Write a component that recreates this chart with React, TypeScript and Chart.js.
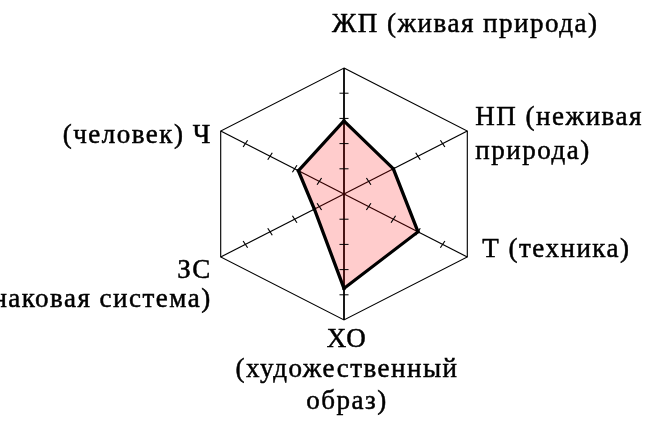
import React, { useEffect, useRef } from "react";
import { Chart, registerables } from "chart.js";

Chart.register(...registerables);

// ---- data ----
const categories = [
  "ЖП (живая природа)",
  "НП (неживая природа)",
  "Т (техника)",
  "ХО (художественный образ)",
  "ЗС (знаковая система)",
  "(человек) Ч",
];
const labelLines = [
  ["ЖП (живая природа)"],
  ["НП (неживая", "природа)"],
  ["Т (техника)"],
  ["ХО", "(художественный", "образ)"],
  ["ЗС", "(знаковая система)"],
  ["(человек) Ч"],
];
const values = [2.9, 2.0, 3.0, 3.75, 1.2, 1.85];
const scaleMin = 0;
const scaleMax = 5;
const stepSize = 1;
const tickMarkValues = [1, 2, 3, 4];

// ---- style ----
const SX = 1.13;
const FONT = '27px "Liberation Serif", "Times New Roman", serif';
const placement = [
  { align: "left", dx: -12, dy: [-36] },
  { align: "left", dx: 8, dy: [-6, 28] },
  { align: "left", dx: 15, dy: [0] },
  { align: "center", dx: 3, dy: [27, 57, 89] },
  { align: "right", dx: -9, dy: [21, 50] },
  { align: "right", dx: -9, dy: [12] },
];

const stretchPlugin = {
  id: "stretchRadar",
  beforeDraw(chart: any) {
    const s = chart.scales.r;
    const ctx = chart.ctx;
    ctx.save();
    ctx.translate(s.xCenter, 0);
    ctx.scale(SX, 1);
    ctx.translate(-s.xCenter, 0);
  },
  afterDatasetsDraw(chart: any) {
    const s = chart.scales.r;
    const ctx = chart.ctx;
    ctx.save();
    ctx.strokeStyle = "#000";
    ctx.lineWidth = 1;
    for (let i = 0; i < categories.length; i++) {
      const a = s.getIndexAngle(i) - Math.PI / 2;
      const px = -Math.sin(a);
      const py = Math.cos(a);
      for (const v of tickMarkValues) {
        const p = s.getPointPosition(i, s.getDistanceFromCenterForValue(v));
        ctx.beginPath();
        ctx.moveTo(p.x - px * 4, p.y - py * 4);
        ctx.lineTo(p.x + px * 4, p.y + py * 4);
        ctx.stroke();
      }
    }
    ctx.restore();
  },
  afterDraw(chart: any) {
    const ctx = chart.ctx;
    ctx.restore();
    const s = chart.scales.r;
    ctx.save();
    ctx.font = FONT;
    try {
      (ctx as any).letterSpacing = "1.5px";
    } catch (e) {}
    ctx.fillStyle = "#000";
    ctx.strokeStyle = "#000";
    ctx.lineWidth = 0.5;
    ctx.textBaseline = "alphabetic";
    for (let i = 0; i < labelLines.length; i++) {
      const p = s.getPointPosition(i, s.drawingArea);
      const vx = s.xCenter + (p.x - s.xCenter) * SX;
      const vy = p.y;
      const pl = placement[i];
      ctx.textAlign = pl.align as CanvasTextAlign;
      labelLines[i].forEach((line, j) => {
        ctx.fillText(line, vx + pl.dx, vy + pl.dy[j]);
        ctx.strokeText(line, vx + pl.dx, vy + pl.dy[j]);
      });
    }
    ctx.restore();
  },
};

export default function App() {
  const ref = useRef<HTMLCanvasElement>(null);
  useEffect(() => {
    document.body.style.margin = "0";
    const canvas = ref.current!;
    const chart = new Chart(canvas, {
      type: "radar",
      data: {
        labels: categories,
        datasets: [
          {
            data: values,
            backgroundColor: "rgba(255,0,0,0.2)",
            borderColor: "#000",
            borderWidth: 3,
            borderJoinStyle: "miter",
            pointStyle: "rect",
            pointRadius: 2,
            pointBackgroundColor: "#000",
            pointBorderColor: "#000",
            pointBorderWidth: 0,
            fill: true,
          },
        ],
      },
      options: {
        responsive: false,
        animation: false,
        layout: { padding: { top: 68, bottom: 101, left: 218, right: 183 } },
        plugins: { legend: { display: false }, tooltip: { enabled: false } },
        scales: {
          r: {
            min: scaleMin,
            max: scaleMax,
            ticks: { display: false, stepSize },
            pointLabels: { display: false },
            grid: {
              color: (c: any) => (c.tick && c.tick.value === scaleMax ? "#000" : "rgba(0,0,0,0)"),
              lineWidth: 1,
            },
            angleLines: {
              color: "#000",
              lineWidth: (c: any) => (c.index % 3 === 0 ? 1.6 : 1),
            },
          },
        },
      },
      plugins: [stretchPlugin],
    });
    return () => chart.destroy();
  }, []);
  return (
    <div style={{ width: 653, height: 421, background: "#fff" }}>
      <canvas ref={ref} width={653} height={421} style={{ display: "block" }} />
    </div>
  );
}
